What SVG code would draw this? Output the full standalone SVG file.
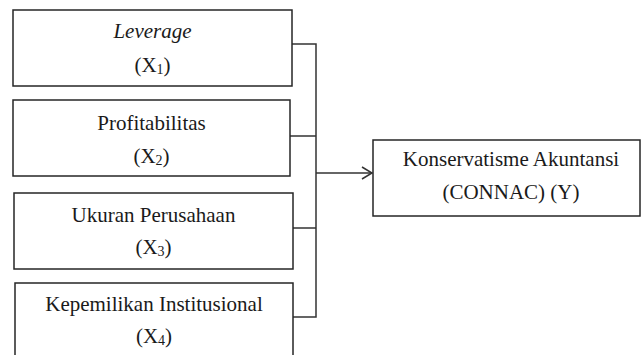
<svg xmlns="http://www.w3.org/2000/svg" width="641" height="355" viewBox="0 0 641 355">
<style>
.box{fill:#fff;stroke:#262626;stroke-width:1.5}
.t{font-family:"Liberation Serif","Times New Roman",serif;font-size:21px;fill:#1a1a1a;text-anchor:middle}
.sub{font-size:14px}
.c{fill:none;stroke:#333;stroke-width:1.5}
</style>
<defs>
<marker id="arr" markerWidth="14" markerHeight="14" refX="11" refY="7" orient="auto" markerUnits="userSpaceOnUse">
<path d="M1,1 L11,7 L1,13" fill="none" stroke="#333" stroke-width="1.5"/>
</marker>
</defs>
<rect width="641" height="355" fill="#fff"/>
<g id="connectors">
<path class="c" d="M292,44 H316 M290,136 H316 M293,228 H316 M293,317 H316 M316,43.3 V317.7"/>
<path class="c" d="M316,173 H372" marker-end="url(#arr)"/>
</g>
<g id="x1">
<rect class="box" x="13" y="10" width="279" height="76"/>
<text class="t" x="152.5" y="38" font-style="italic">Leverage</text>
<text class="t" x="152.5" y="72">(X<tspan class="sub" dy="2">1</tspan><tspan dy="-2">)</tspan></text>
</g>
<g id="x2">
<rect class="box" x="13" y="100" width="277" height="76"/>
<text class="t" x="151.5" y="130">Profitabilitas</text>
<text class="t" x="151.5" y="163">(X<tspan class="sub" dy="2">2</tspan><tspan dy="-2">)</tspan></text>
</g>
<g id="x3">
<rect class="box" x="14" y="193" width="279" height="76"/>
<text class="t" x="153.5" y="222">Ukuran Perusahaan</text>
<text class="t" x="153.5" y="254">(X<tspan class="sub" dy="2">3</tspan><tspan dy="-2">)</tspan></text>
</g>
<g id="x4">
<rect class="box" x="15" y="283" width="278" height="85"/>
<text class="t" x="154" y="311">Kepemilikan Institusional</text>
<text class="t" x="154" y="343">(X<tspan class="sub" dy="2">4</tspan><tspan dy="-2">)</tspan></text>
</g>
<g id="y">
<rect class="box" x="373" y="140" width="267" height="76"/>
<text class="t" x="511" y="166">Konservatisme Akuntansi</text>
<text class="t" x="511" y="199">(CONNAC) (Y)</text>
</g>
</svg>
